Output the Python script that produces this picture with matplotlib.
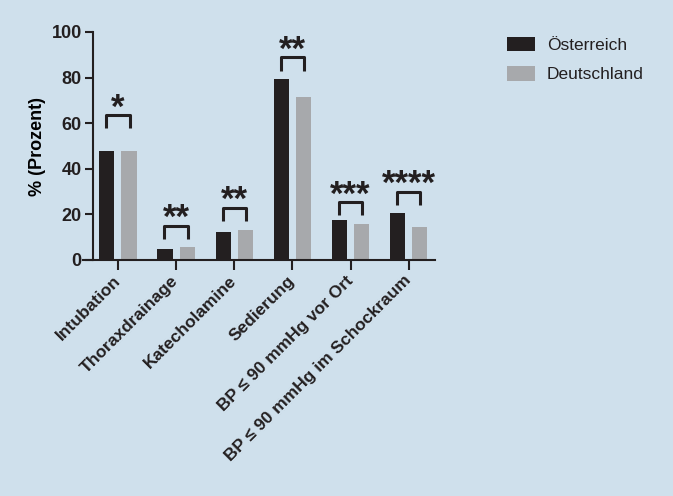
import numpy as np
import matplotlib
matplotlib.use('Agg')
import matplotlib.pyplot as plt

plt.rcParams['font.family'] = ['Liberation Sans', 'DejaVu Sans']
plt.rcParams['font.weight'] = 'bold'
plt.rcParams['ytick.labelsize'] = 13
plt.rcParams['xtick.labelsize'] = 12.5

# data
categories = ['Intubation', 'Thoraxdrainage', 'Katecholamine', 'Sedierung',
              'BP ≤ 90 mmHg vor Ort', 'BP ≤ 90 mmHg im Schockraum']
oesterreich = [48, 4.7, 12.2, 79.6, 17.7, 20.5]
deutschland = [48, 5.6, 13.3, 71.6, 15.8, 14.5]
signif = ['*', '**', '**', '**', '***', '****']
bracket_top = [63.7, 15.1, 23.0, 89.0, 25.6, 30.0]
yticks = [0, 20, 40, 60, 80, 100]

bg = '#cfe0ec'
dark = '#231f20'
grey = '#a7a9ac'

fig = plt.figure(figsize=(6.73, 4.96), dpi=100, facecolor=bg)
ax = fig.add_axes([83 / 673, 236 / 496, 352 / 673, 228 / 496])
ax.set_facecolor(bg)

x = np.arange(len(categories))
w = 0.26
off = 0.19
ax.bar(x - off, oesterreich, w, color=dark, label='Österreich')
ax.bar(x + off, deutschland, w, color=grey, label='Deutschland')

# significance brackets
for i in range(len(categories)):
    top = bracket_top[i]
    ax.plot([i - 0.2, i - 0.2, i + 0.2, i + 0.2], [top - 6, top, top, top - 6],
            color=dark, lw=2.2, solid_capstyle='butt', clip_on=False)
    ax.text(i, top - 1.2, signif[i], ha='center', va='baseline', fontsize=25,
            fontweight='bold', color=dark, clip_on=False)

ax.set_xlim(-0.6, 5.45)
ax.set_ylim(0, 100)
ax.set_yticks(yticks)
ax.set_xticks(x)
ax.set_xticklabels(categories, rotation=45, ha='right', va='center',
                   rotation_mode='anchor')
ax.set_ylabel('% (Prozent)', fontweight='bold', fontsize=13, labelpad=4)

ax.spines['top'].set_visible(False)
ax.spines['right'].set_visible(False)
ax.spines['left'].set_position(('data', -0.43))
for s in ['left', 'bottom']:
    ax.spines[s].set_linewidth(1.5)
    ax.spines[s].set_color(dark)
ax.tick_params(axis='both', width=1.5, color=dark, labelcolor=dark)
ax.tick_params(axis='y', length=6, pad=2)
ax.tick_params(axis='x', length=7, pad=6)

leg = fig.legend(loc='upper left', bbox_to_anchor=(507 / 673, 1 - 37 / 496),
                 frameon=False, fontsize=12.5, handlelength=1.6, handleheight=0.9,
                 labelspacing=0.75, handletextpad=0.7, borderpad=0, borderaxespad=0)
for t in leg.get_texts():
    t.set_fontweight('normal')
    t.set_color(dark)

fig.savefig('out.png', dpi=100, facecolor=bg)
